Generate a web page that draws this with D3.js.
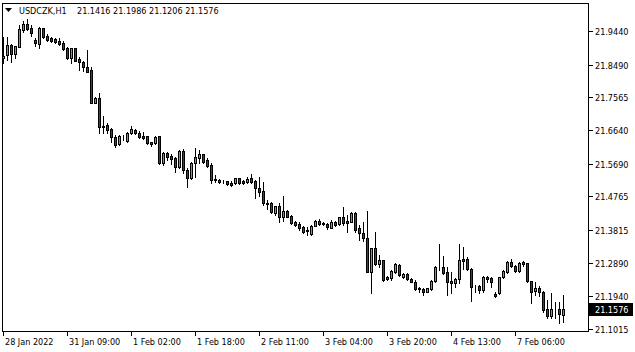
<!DOCTYPE html>
<html>
<head>
<meta charset="utf-8">
<title>USDCZK,H1</title>
<script src="https://cdn.jsdelivr.net/npm/d3@7"></script>
<style>
    body { margin: 0; background: #fff; }
    svg text { font-family: "DejaVu Sans Condensed", "Liberation Sans", sans-serif; font-size: 9px; fill: #000; }
</style>
</head>
<body>
<div id="container"></div>
<script>

// Données (bougies H1)
const symbol = "USDCZK,H1";

const open = [
    21.8677, 21.8762, 21.9044, 21.8790, 21.8987, 21.9468, 21.9638, 21.9525, 21.9185, 21.9072,
    21.9525, 21.9298, 21.9242, 21.9214, 21.9157, 21.9100, 21.8959, 21.8677, 21.8959, 21.8648,
    21.8563, 21.8422, 21.8337, 21.7404, 21.7546, 21.6754, 21.6782, 21.6669, 21.6443, 21.6245,
    21.6443, 21.6330, 21.6556, 21.6641, 21.6556, 21.6471, 21.6471, 21.6301, 21.6273, 21.6471,
    21.5708, 21.5991, 21.5906, 21.5850, 21.5595, 21.6047, 21.5510, 21.5284, 21.5708, 21.5850,
    21.5963, 21.5793, 21.5652, 21.5256, 21.5227, 21.5171, 21.5199, 21.5142, 21.5142, 21.5284,
    21.5199, 21.5171, 21.5284, 21.5199, 21.5001, 21.4916, 21.4577, 21.4577, 21.4294, 21.4492,
    21.4181, 21.4351, 21.4210, 21.4040, 21.3984, 21.3899, 21.3814, 21.3701, 21.3927, 21.4068,
    21.4012, 21.3984, 21.3871, 21.4040, 21.3984, 21.4181, 21.4068, 21.4040, 21.4294, 21.3871,
    21.3730, 21.3588, 21.2627, 21.3305, 21.2853, 21.2966, 21.2485, 21.2457, 21.2627, 21.2825,
    21.2485, 21.2570, 21.2429, 21.2343, 21.2174, 21.2146, 21.2061, 21.2146, 21.2372, 21.2740,
    21.2768, 21.2627, 21.2372, 21.2316, 21.2429, 21.2994, 21.2994, 21.2712, 21.2203, 21.2231,
    21.2118, 21.2485, 21.2457, 21.2005, 21.2033, 21.2485, 21.2627, 21.2909, 21.2797, 21.2655,
    21.2909, 21.2881, 21.2372, 21.2090, 21.2174, 21.2061, 21.1580, 21.1382, 21.1552, 21.1580,
    21.1416
];
const high = [
    21.9270, 21.9270, 21.9072, 21.9015, 21.9609, 21.9722, 21.9779, 21.9609, 21.9242, 21.9553,
    21.9525, 21.9355, 21.9270, 21.9242, 21.9242, 21.9157, 21.8987, 21.8959, 21.8959, 21.8705,
    21.8592, 21.8903, 21.8422, 21.7574, 21.7687, 21.7037, 21.6839, 21.6697, 21.6499, 21.6499,
    21.6499, 21.6584, 21.6754, 21.6669, 21.6612, 21.6584, 21.6471, 21.6301, 21.6471, 21.6471,
    21.6019, 21.6019, 21.5963, 21.5878, 21.6075, 21.6104, 21.5567, 21.5737, 21.6132, 21.6075,
    21.5963, 21.5850, 21.5708, 21.5369, 21.5256, 21.5227, 21.5199, 21.5199, 21.5284, 21.5284,
    21.5227, 21.5313, 21.5397, 21.5227, 21.5313, 21.5171, 21.4662, 21.4605, 21.4492, 21.4577,
    21.4776, 21.4379, 21.4238, 21.4068, 21.4040, 21.3927, 21.3899, 21.3955, 21.4097, 21.4125,
    21.4040, 21.4012, 21.4097, 21.4068, 21.4181, 21.4463, 21.4238, 21.4323, 21.4323, 21.3955,
    21.4040, 21.4351, 21.3305, 21.3758, 21.3107, 21.2966, 21.2514, 21.2683, 21.2881, 21.2853,
    21.2598, 21.2598, 21.2457, 21.2400, 21.2203, 21.2174, 21.2174, 21.2400, 21.2797, 21.3418,
    21.3079, 21.2768, 21.2627, 21.2457, 21.3418, 21.3333, 21.3051, 21.2740, 21.2259, 21.2259,
    21.2514, 21.2514, 21.2485, 21.2061, 21.2485, 21.2683, 21.2938, 21.2994, 21.2825, 21.2909,
    21.2938, 21.2881, 21.2372, 21.2343, 21.2231, 21.2090, 21.1835, 21.2033, 21.1779, 21.1779,
    21.1986
];
const low = [
    21.8535, 21.8620, 21.8563, 21.8677, 21.8987, 21.9411, 21.9468, 21.9298, 21.9015, 21.8959,
    21.9242, 21.9157, 21.9129, 21.9100, 21.9044, 21.8903, 21.8648, 21.8535, 21.8592, 21.8337,
    21.8309, 21.8281, 21.7404, 21.7404, 21.6556, 21.6556, 21.6556, 21.6301, 21.6160, 21.6217,
    21.6358, 21.6301, 21.6528, 21.6528, 21.6414, 21.6386, 21.6245, 21.6188, 21.6245, 21.5680,
    21.5652, 21.5793, 21.5680, 21.5453, 21.5567, 21.5425, 21.5029, 21.5256, 21.5313, 21.5708,
    21.5708, 21.5595, 21.5142, 21.5171, 21.5142, 21.5142, 21.5086, 21.5058, 21.5114, 21.5114,
    21.5114, 21.5142, 21.5142, 21.4719, 21.4776, 21.4521, 21.4407, 21.4294, 21.4238, 21.4040,
    21.4068, 21.4181, 21.3984, 21.3927, 21.3814, 21.3730, 21.3673, 21.3673, 21.3927, 21.3955,
    21.3955, 21.3843, 21.3871, 21.3927, 21.3955, 21.3955, 21.3758, 21.4040, 21.3758, 21.3531,
    21.3503, 21.2627, 21.2033, 21.2825, 21.2768, 21.2372, 21.2400, 21.2400, 21.2598, 21.2514,
    21.2457, 21.2400, 21.2330, 21.2118, 21.2061, 21.1977, 21.2061, 21.2118, 21.2343, 21.2683,
    21.2570, 21.1977, 21.2033, 21.2203, 21.2316, 21.2712, 21.2683, 21.1807, 21.2061, 21.2033,
    21.2061, 21.2344, 21.2203, 21.1920, 21.2005, 21.2457, 21.2598, 21.2768, 21.2627, 21.2627,
    21.2797, 21.2344, 21.1751, 21.1977, 21.1949, 21.1495, 21.1326, 21.1326, 21.1326, 21.1184,
    21.1206
];
const close = [
    21.8733, 21.9044, 21.8790, 21.9015, 21.9496, 21.9638, 21.9496, 21.9383, 21.9100, 21.9525,
    21.9270, 21.9185, 21.9157, 21.9129, 21.9072, 21.8931, 21.8677, 21.8959, 21.8592, 21.8563,
    21.8422, 21.8281, 21.7404, 21.7546, 21.6726, 21.6726, 21.6641, 21.6443, 21.6217, 21.6471,
    21.6430, 21.6556, 21.6669, 21.6556, 21.6443, 21.6414, 21.6273, 21.6245, 21.6443, 21.5708,
    21.5991, 21.5878, 21.5821, 21.5595, 21.6047, 21.5510, 21.5284, 21.5708, 21.5878, 21.5963,
    21.5737, 21.5623, 21.5227, 21.5227, 21.5171, 21.5185, 21.5114, 21.5100, 21.5284, 21.5142,
    21.5142, 21.5256, 21.5171, 21.5001, 21.4888, 21.4577, 21.4549, 21.4323, 21.4492, 21.4181,
    21.4351, 21.4181, 21.4012, 21.3955, 21.3871, 21.3758, 21.3786, 21.3927, 21.4068, 21.3984,
    21.3984, 21.3899, 21.4040, 21.3955, 21.4181, 21.4012, 21.4012, 21.4294, 21.3814, 21.3730,
    21.3588, 21.2627, 21.3305, 21.2853, 21.2966, 21.2400, 21.2429, 21.2655, 21.2853, 21.2542,
    21.2570, 21.2429, 21.2344, 21.2146, 21.2146, 21.2061, 21.2174, 21.2372, 21.2768, 21.2745,
    21.2598, 21.2344, 21.2316, 21.2429, 21.2966, 21.2938, 21.2712, 21.2203, 21.2198, 21.2118,
    21.2485, 21.2429, 21.2343, 21.1949, 21.2485, 21.2655, 21.2909, 21.2797, 21.2655, 21.2881,
    21.2853, 21.2372, 21.2061, 21.2174, 21.2061, 21.1552, 21.1382, 21.1580, 21.1566, 21.1439,
    21.1576
];

// Graduations
const priceTicks = [21.9440, 21.8490, 21.7565, 21.6640, 21.5690, 21.4765, 21.3815, 21.2890, 21.1940, 21.1015];
const timeTickBars = [0, 16, 32, 48, 64, 80, 96, 112, 128];
const timeTickLabels = ["28 Jan 2022", "31 Jan 09:00", "1 Feb 02:00", "1 Feb 18:00", "2 Feb 11:00",
                        "3 Feb 04:00", "3 Feb 20:00", "4 Feb 13:00", "7 Feb 06:00"];

// Dimensions
const width = 635;
const height = 352;
const plotLeft = 2;
const plotRight = 588;
const plotTop = 3;
const plotBottom = 331;

const bullColor = "#32cd32";
const bearColor = "#e00000";

const svg = d3.create("svg")
              .attr("width", width)
              .attr("height", height)
              .style("display", "block")
              .style("background", "#fff");

const x = d3.scaleLinear().domain([0, 146]).range([3, 587]);
const y = d3.scaleLinear().domain([21.1015, 21.9440]).range([329, 31]);

const bars = open.map((o, i) => ({i: i, o: o, h: high[i], l: low[i], c: close[i]}));

// Cadre
const frame = svg.append("g")
                 .attr("stroke", "#000")
                 .attr("stroke-width", 1)
                 .attr("shape-rendering", "crispEdges");
frame.append("line").attr("x1", plotLeft + 0.5).attr("x2", plotLeft + 0.5).attr("y1", plotTop).attr("y2", plotBottom + 1);
frame.append("line").attr("x1", plotLeft).attr("x2", plotRight + 1).attr("y1", plotBottom + 0.5).attr("y2", plotBottom + 0.5);
frame.append("line").attr("x1", plotRight + 0.5).attr("x2", plotRight + 0.5).attr("y1", plotTop).attr("y2", plotBottom + 1);
frame.append("line").attr("x1", plotLeft).attr("x2", plotRight + 1).attr("y1", plotTop + 0.5).attr("y2", plotTop + 0.5);

// Bougies
const candles = svg.append("g").attr("shape-rendering", "crispEdges");

candles.selectAll("line.wick")
    .data(bars)
    .enter().append("line")
    .attr("class", "wick")
    .attr("x1", d => Math.round(x(d.i)) + 0.5)
    .attr("x2", d => Math.round(x(d.i)) + 0.5)
    .attr("y1", d => Math.round(y(d.h)))
    .attr("y2", d => Math.round(y(d.l)) + 1)
    .attr("stroke", "#000");

candles.selectAll("rect.body")
    .data(bars)
    .enter().append("rect")
    .attr("class", "body")
    .attr("x", d => Math.round(x(d.i)) - 0.5)
    .attr("width", 2)
    .attr("y", d => Math.round(y(Math.max(d.o, d.c))) + 0.5)
    .attr("height", d => Math.round(y(Math.min(d.o, d.c))) - Math.round(y(Math.max(d.o, d.c))))
    .attr("fill", d => d.c > d.o ? bullColor : bearColor)
    .attr("stroke", "#000");

// Axe des prix
const yAxis = svg.append("g");
yAxis.selectAll("line")
    .data(priceTicks)
    .enter().append("line")
    .attr("x1", plotRight + 1)
    .attr("x2", plotRight + 5)
    .attr("y1", d => Math.round(y(d)) + 0.5)
    .attr("y2", d => Math.round(y(d)) + 0.5)
    .attr("stroke", "#000")
    .attr("shape-rendering", "crispEdges");
yAxis.selectAll("text")
    .data(priceTicks)
    .enter().append("text")
    .attr("x", plotRight + 7)
    .attr("y", d => Math.round(y(d)) + 0.5)
    .attr("dy", "0.35em")
    .text(d => d.toFixed(4));

// Axe du temps
const xAxis = svg.append("g");
xAxis.selectAll("line")
    .data(timeTickBars)
    .enter().append("line")
    .attr("x1", d => Math.round(x(d)) + 0.5)
    .attr("x2", d => Math.round(x(d)) + 0.5)
    .attr("y1", plotBottom)
    .attr("y2", plotBottom + 5)
    .attr("stroke", "#000")
    .attr("shape-rendering", "crispEdges");
xAxis.selectAll("text")
    .data(timeTickBars)
    .enter().append("text")
    .attr("x", d => Math.round(x(d)) + 2)
    .attr("y", 345)
    .text((d, k) => timeTickLabels[k]);

// Dernier prix
const last = bars[bars.length - 1];
const yLast = Math.round(y(last.c));
svg.append("rect")
    .attr("x", plotRight + 1)
    .attr("y", yLast - 6)
    .attr("width", 44)
    .attr("height", 13)
    .attr("fill", "#000");
svg.append("text")
    .attr("x", plotRight + 7)
    .attr("y", yLast + 0.5)
    .attr("dy", "0.35em")
    .style("fill", "#fff")
    .text(last.c.toFixed(4));

// Titre
svg.append("path")
    .attr("d", "M5,8 L12,8 L8.5,12 Z")
    .attr("fill", "#000");
svg.append("text")
    .attr("x", 19)
    .attr("y", 14)
    .text(symbol);
svg.append("text")
    .attr("x", 77)
    .attr("y", 14)
    .text([last.o, last.h, last.l, last.c].map(v => v.toFixed(4)).join(" "));

container.append(svg.node());
</script>
</body>
</html>
